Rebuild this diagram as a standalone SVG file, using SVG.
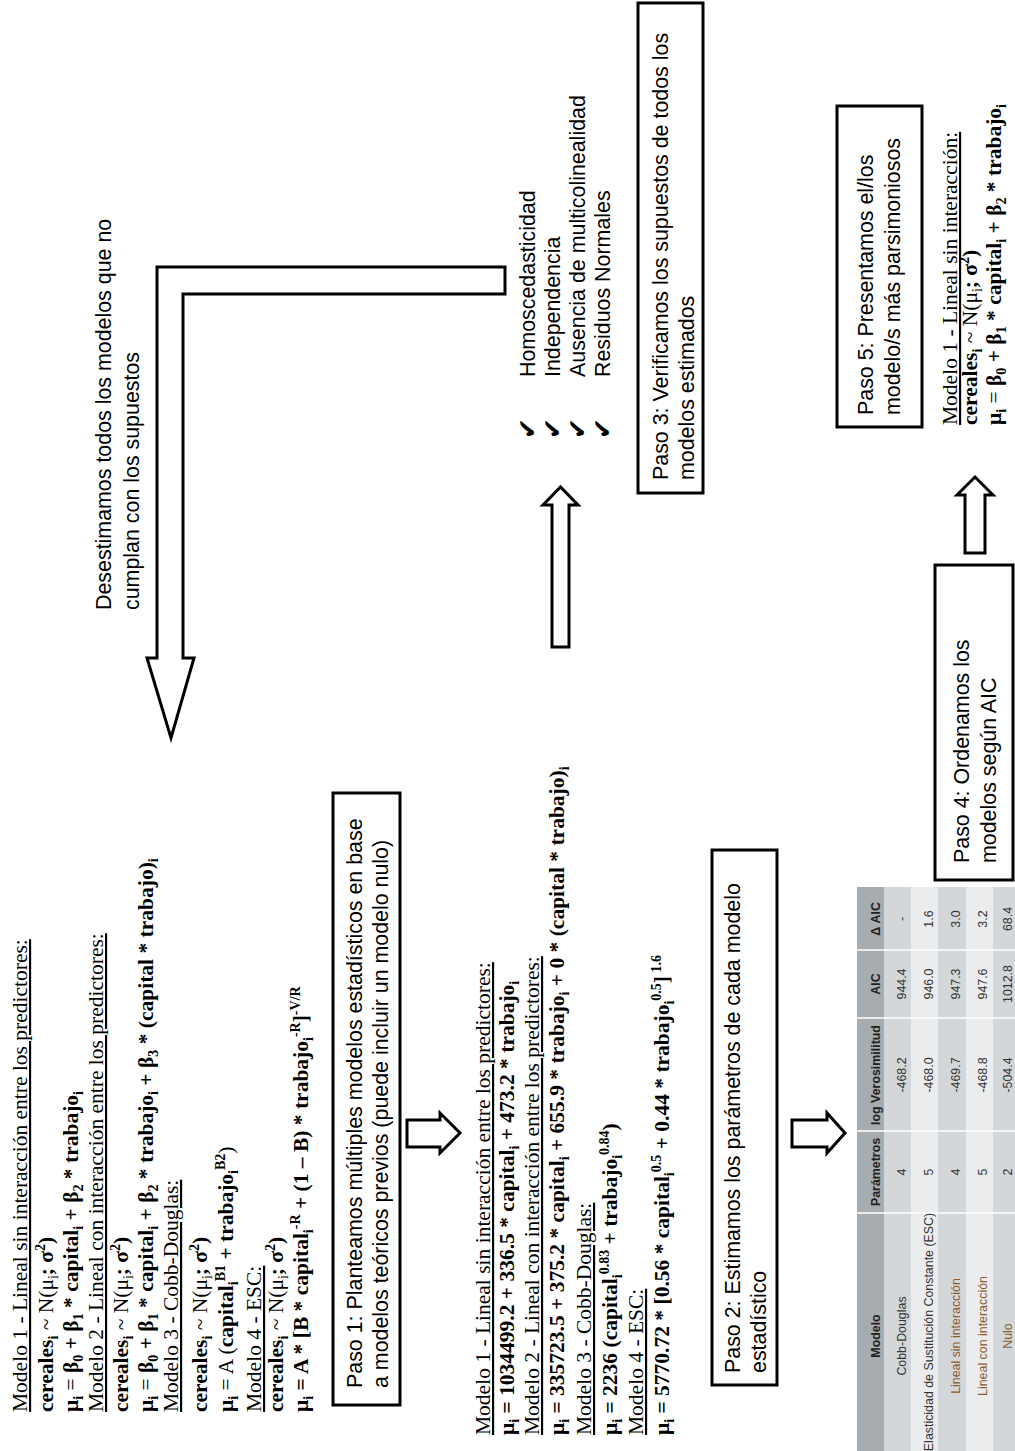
<svg xmlns="http://www.w3.org/2000/svg" width="1015" height="1451" viewBox="0 0 1015 1451">
<style>
.tr{font-family:"Liberation Serif","Times New Roman",serif;font-size:21.5px;fill:#000}
.sa{font-family:"Liberation Sans",Arial,sans-serif;font-size:21.4px;fill:#000}
.b{font-weight:bold}
.n{font-weight:normal}
.u{text-decoration:underline}
.s{font-size:14px}
.box{fill:#fff;stroke:#000;stroke-width:3}
.arr{fill:#fff;stroke:#000;stroke-width:3;stroke-linejoin:miter}
.tb{font-family:"Liberation Sans",Arial,sans-serif;font-size:12.4px;fill:#333;text-anchor:middle}
.th{font-weight:bold;fill:#222}
.or{fill:#8a5a2c}
.chk{font-family:"DejaVu Sans",sans-serif;font-size:25px;fill:#000}
</style>
<rect width="1015" height="1451" fill="#fff"/>
<g transform="translate(0 1451) rotate(-90)">

<g id="connectors">
<path class="arr" d="M1184 505 L1184 157 L793 157 L793 147 L713 171 L793 194 L793 183 L1157 183 L1157 505 Z"/>
<path class="arr" d="M304 407 L331 407 L331 440 L338 440 L318 460 L298 440 L304 440 Z"/>
<path class="arr" d="M304 792 L331 792 L331 827 L338 827 L318 845 L298 827 L304 827 Z"/>
<path class="arr" d="M804 552 L946 552 L946 543 L964 560.5 L946 578 L946 569 L804 569 Z"/>
<path class="arr" d="M898 965 L956 965 L956 957 L974 975 L956 993 L956 985 L898 985 Z"/>
</g>

<g id="modelos-teoricos">
<text class="tr u" x="39" y="27">Modelo 1 - Lineal sin interacción entre los predictores:</text>
<text class="tr b" x="39" y="53">cereales<tspan class="s" dy="5">i</tspan><tspan dy="-5" class="n"> ~ N(μ</tspan><tspan class="s n" dy="5">i</tspan><tspan dy="-5">; σ</tspan><tspan class="s" dy="-8">2</tspan><tspan dy="8">)</tspan></text>
<text class="tr b" x="39" y="78">μ<tspan class="s" dy="5">i</tspan><tspan dy="-5" class="n"> = </tspan>β<tspan class="s" dy="5">0</tspan><tspan dy="-5"> + β</tspan><tspan class="s" dy="5">1</tspan><tspan dy="-5"> * capital</tspan><tspan class="s" dy="5">i</tspan><tspan dy="-5"> + β</tspan><tspan class="s" dy="5">2</tspan><tspan dy="-5"> * trabajo</tspan><tspan class="s" dy="5">i</tspan></text>
<text class="tr u" x="39" y="103">Modelo 2 - Lineal con interacción entre los predictores:</text>
<text class="tr b" x="39" y="128">cereales<tspan class="s" dy="5">i</tspan><tspan dy="-5" class="n"> ~ N(μ</tspan><tspan class="s n" dy="5">i</tspan><tspan dy="-5">; σ</tspan><tspan class="s" dy="-8">2</tspan><tspan dy="8">)</tspan></text>
<text class="tr b" x="39" y="153">μ<tspan class="s" dy="5">i</tspan><tspan dy="-5" class="n"> = </tspan>β<tspan class="s" dy="5">0</tspan><tspan dy="-5"> + β</tspan><tspan class="s" dy="5">1</tspan><tspan dy="-5"> * capital</tspan><tspan class="s" dy="5">i</tspan><tspan dy="-5"> + β</tspan><tspan class="s" dy="5">2</tspan><tspan dy="-5"> * trabajo</tspan><tspan class="s" dy="5">i</tspan><tspan dy="-5"> + β</tspan><tspan class="s" dy="5">3</tspan><tspan dy="-5"> * (capital * trabajo)</tspan><tspan class="s" dy="5">i</tspan></text>
<text class="tr u" x="39" y="178">Modelo 3 - Cobb-Douglas:</text>
<text class="tr b" x="39" y="207">cereales<tspan class="s" dy="5">i</tspan><tspan dy="-5" class="n"> ~ N(μ</tspan><tspan class="s n" dy="5">i</tspan><tspan dy="-5">; σ</tspan><tspan class="s" dy="-8">2</tspan><tspan dy="8">)</tspan></text>
<text class="tr b" x="39" y="233">μ<tspan class="s" dy="5">i</tspan><tspan dy="-5" class="n"> = A (</tspan>capital<tspan class="s" dy="5">i</tspan><tspan class="s" dy="-13">B1</tspan><tspan dy="8"> + trabajo</tspan><tspan class="s" dy="5">i</tspan><tspan class="s" dy="-13">B2</tspan><tspan dy="8" class="n">)</tspan></text>
<text class="tr u" x="39" y="261">Modelo 4 - ESC:</text>
<text class="tr b" x="39" y="283">cereales<tspan class="s" dy="5">i</tspan><tspan dy="-5" class="n"> ~ N(μ</tspan><tspan class="s n" dy="5">i</tspan><tspan dy="-5">; σ</tspan><tspan class="s" dy="-8">2</tspan><tspan dy="8">)</tspan></text>
<text class="tr b" x="39" y="308">μ<tspan class="s" dy="5">i</tspan><tspan dy="-5"> = A * [B * capital</tspan><tspan class="s" dy="5">i</tspan><tspan class="s" dy="-13">-R</tspan><tspan dy="8"> + (1 – B) * trabajo</tspan><tspan class="s" dy="5">i</tspan><tspan class="s" dy="-13">-R</tspan><tspan dy="8">]</tspan><tspan class="s" dy="-8">-V/R</tspan></text>
</g>

<g id="paso1">
<rect class="box" x="46" y="333" width="612" height="67"/>
<text class="sa" x="63" y="362">Paso 1: Planteamos múltiples modelos estadísticos en base</text>
<text class="sa" x="63" y="388">a modelos teóricos previos (puede incluir un modelo nulo)</text>
</g>

<g id="modelos-estimados">
<text class="tr u" x="16" y="490">Modelo 1 - Lineal sin interacción entre los predictores:</text>
<text class="tr b" x="16" y="514">μ<tspan class="s" dy="5">i</tspan><tspan dy="-5"> = 1034499.2 + 336.5 * capital</tspan><tspan class="s" dy="5">i</tspan><tspan dy="-5"> + 473.2 * trabajo</tspan><tspan class="s" dy="5">i</tspan></text>
<text class="tr u" x="16" y="539">Modelo 2 - Lineal con interacción entre los predictores:</text>
<text class="tr b" x="16" y="564">μ<tspan class="s" dy="5">i</tspan><tspan dy="-5"> = 335723.5 + 375.2 * capital</tspan><tspan class="s" dy="5">i</tspan><tspan dy="-5"> + 655.9 * trabajo</tspan><tspan class="s" dy="5">i</tspan><tspan dy="-5"> + 0 * (capital * trabajo)</tspan><tspan class="s" dy="5">i</tspan></text>
<text class="tr u" x="16" y="591">Modelo 3 - Cobb-Douglas:</text>
<text class="tr b" x="16" y="617">μ<tspan class="s" dy="5">i</tspan><tspan dy="-5"> = 2236 (capital</tspan><tspan class="s" dy="5">i</tspan><tspan class="s" dy="-13">0.83</tspan><tspan dy="8"> + trabajo</tspan><tspan class="s" dy="5">i</tspan><tspan class="s" dy="-13">0.84</tspan><tspan dy="8">)</tspan></text>
<text class="tr u" x="16" y="643">Modelo 4 - ESC:</text>
<text class="tr b" x="16" y="669">μ<tspan class="s" dy="5">i</tspan><tspan dy="-5"> = 5770.72 * [0.56 * capital</tspan><tspan class="s" dy="5">i</tspan><tspan class="s" dy="-13">0.5</tspan><tspan dy="8"> + 0.44 * trabajo</tspan><tspan class="s" dy="5">i</tspan><tspan class="s" dy="-13">0.5</tspan><tspan dy="8">]</tspan><tspan class="s" dy="-8"> 1.6</tspan></text>
</g>

<g id="paso2">
<rect class="box" x="66" y="712" width="535" height="65"/>
<text class="sa" x="78" y="740">Paso 2: Estimamos los parámetros de cada modelo</text>
<text class="sa" x="78" y="766">estadístico</text>
</g>

<g id="tabla-aic">
<rect x="0" y="857" width="564" height="27" fill="#a6acb0"/>
<rect x="0" y="884" width="564" height="27" fill="#d3d7da"/>
<rect x="0" y="911" width="564" height="27" fill="#ebeced"/>
<rect x="0" y="938" width="564" height="28" fill="#d3d7da"/>
<rect x="0" y="966" width="564" height="27" fill="#ebeced"/>
<rect x="0" y="993" width="564" height="30" fill="#d3d7da"/>
<g stroke="#fff" stroke-width="1.5">
<line x1="238" y1="857" x2="238" y2="1023"/>
<line x1="320" y1="857" x2="320" y2="1023"/>
<line x1="433" y1="857" x2="433" y2="1023"/>
<line x1="501" y1="857" x2="501" y2="1023"/>
</g>
<text class="tb th" x="115" y="880">Modelo</text>
<text class="tb th" x="279" y="880">Parámetros</text>
<text class="tb th" x="376" y="880">log Verosimilitud</text>
<text class="tb th" x="467" y="880">AIC</text>
<text class="tb th" x="532" y="880">Δ AIC</text>
<text class="tb" x="115" y="906">Cobb-Douglas</text>
<text class="tb" x="279" y="906">4</text>
<text class="tb" x="376" y="906">-468.2</text>
<text class="tb" x="467" y="906">944.4</text>
<text class="tb" x="532" y="906">-</text>
<text class="tb" x="119" y="933">Elasticidad de Sustitución Constante (ESC)</text>
<text class="tb" x="279" y="933">5</text>
<text class="tb" x="376" y="933">-468.0</text>
<text class="tb" x="467" y="933">946.0</text>
<text class="tb" x="532" y="933">1.6</text>
<text class="tb or" x="115" y="960">Lineal sin interacción</text>
<text class="tb" x="279" y="960">4</text>
<text class="tb" x="376" y="960">-469.7</text>
<text class="tb" x="467" y="960">947.3</text>
<text class="tb" x="532" y="960">3.0</text>
<text class="tb or" x="115" y="987">Lineal con interacción</text>
<text class="tb" x="279" y="987">5</text>
<text class="tb" x="376" y="987">-468.8</text>
<text class="tb" x="467" y="987">947.6</text>
<text class="tb" x="532" y="987">3.2</text>
<text class="tb or" x="115" y="1012">Nulo</text>
<text class="tb" x="279" y="1012">2</text>
<text class="tb" x="376" y="1012">-504.4</text>
<text class="tb" x="467" y="1012">1012.8</text>
<text class="tb" x="532" y="1012">68.4</text>
</g>

<g id="paso4">
<rect class="box" x="571" y="935" width="315" height="78"/>
<text class="sa" x="588" y="969">Paso 4: Ordenamos los</text>
<text class="sa" x="588" y="996">modelos según AIC</text>
</g>

<g id="desestimamos">
<text class="sa" x="841" y="111">Desestimamos todos los modelos que no</text>
<text class="sa" x="841" y="139">cumplan con los supuestos</text>
</g>

<g id="supuestos">
<text class="chk" x="1012" y="536">✔</text>
<text class="chk" x="1012" y="561">✔</text>
<text class="chk" x="1012" y="586">✔</text>
<text class="chk" x="1012" y="611">✔</text>
<text class="sa" x="1074" y="535">Homoscedasticidad</text>
<text class="sa" x="1074" y="560">Independencia</text>
<text class="sa" x="1074" y="585">Ausencia de multicolinealidad</text>
<text class="sa" x="1074" y="610">Residuos Normales</text>
</g>

<g id="paso3">
<rect class="box" x="958" y="638" width="490" height="65"/>
<text class="sa" x="971" y="668">Paso 3: Verificamos los supuestos de todos los</text>
<text class="sa" x="971" y="694">modelos estimados</text>
</g>

<g id="paso5">
<rect class="box" x="1024" y="837" width="321" height="85"/>
<text class="sa" x="1036" y="873">Paso 5: Presentamos el/los</text>
<text class="sa" x="1036" y="900">modelo/s más parsimoniosos</text>
</g>

<g id="modelo-final">
<text class="tr u" x="1026" y="957">Modelo 1 - Lineal sin interacción:</text>
<text class="tr b" x="1026" y="977">cereales<tspan class="s" dy="5">i</tspan><tspan dy="-5" class="n"> ~ N(μ</tspan><tspan class="s n" dy="5">i</tspan><tspan dy="-5">; σ</tspan><tspan class="s" dy="-8">2</tspan><tspan dy="8">)</tspan></text>
<text class="tr b" x="1026" y="1001">μ<tspan class="s" dy="5">i</tspan><tspan dy="-5" class="n"> = </tspan>β<tspan class="s" dy="5">0</tspan><tspan dy="-5"> + β</tspan><tspan class="s" dy="5">1</tspan><tspan dy="-5"> * capital</tspan><tspan class="s" dy="5">i</tspan><tspan dy="-5"> + β</tspan><tspan class="s" dy="5">2</tspan><tspan dy="-5"> * trabajo</tspan><tspan class="s" dy="5">i</tspan></text>
</g>

</g>
</svg>
